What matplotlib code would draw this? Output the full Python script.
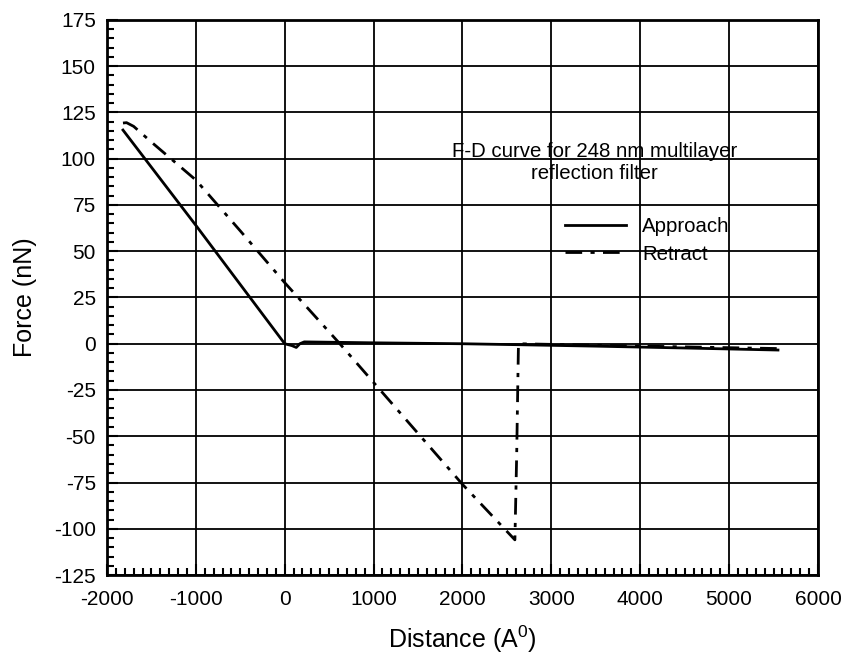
import matplotlib
matplotlib.use('Agg')
import matplotlib.pyplot as plt
from matplotlib.ticker import MultipleLocator

plt.rcParams['font.family'] = ['Liberation Sans', 'DejaVu Sans']
plt.rcParams['mathtext.fontset'] = 'custom'
plt.rcParams['mathtext.rm'] = 'Liberation Sans'
plt.rcParams['axes.unicode_minus'] = False

# approach curve (distance in A, force in nN)
approach_x = [-1820, -1000, -500, 0, 80, 130, 170, 220, 1000, 2000, 2600, 3500, 4500, 5550]
approach_y = [115.5, 64, 32, 0, -1, -2, 0, 1, 0.5, 0, -0.5, -1.3, -2.3, -3.4]

# retract curve
retract_x = [-1820, -1780, -1700, -1500, -1000, -500, 0, 620, 2000, 2590, 2610, 2630, 3500, 4500, 5550]
retract_y = [119.3, 119.5, 117.5, 109, 88.5, 61, 33, 0, -76, -106, -60, 0, -0.8, -1.7, -2.6]

fig = plt.figure(figsize=(8.45, 6.57), dpi=100)
ax = fig.add_axes([0.1266, 0.1248, 0.8414, 0.8448])

ax.plot(approach_x, approach_y, color='black', lw=2.0, label='Approach', zorder=3)
ax.plot(retract_x, retract_y, color='black', lw=2.0, dashes=(6, 3, 1.5, 3),
        label='Retract', zorder=3)

ax.set_xlim(-2000, 6000)
ax.set_ylim(-125, 175)
ax.xaxis.set_major_locator(MultipleLocator(1000))
ax.xaxis.set_minor_locator(MultipleLocator(100))
ax.yaxis.set_major_locator(MultipleLocator(25))
ax.yaxis.set_minor_locator(MultipleLocator(5))
ax.grid(True, which='major', color='black', lw=1.3)
ax.tick_params(which='both', direction='in', top=False, right=False, width=1.5,
               labelsize=15, colors='black')
ax.tick_params(which='major', length=8)
ax.tick_params(which='minor', length=5)
ax.tick_params(axis='x', which='major', pad=11)
ax.tick_params(axis='y', which='major', pad=8)
for s in ax.spines.values():
    s.set_linewidth(2)

ax.set_xlabel('Distance (A$^\\mathrm{0}$)', fontsize=18, labelpad=10)
ax.set_ylabel('Force (nN)', fontsize=18, labelpad=12)

ax.text(0.686, 0.744, 'F-D curve for 248 nm multilayer\nreflection filter',
        transform=ax.transAxes, ha='center', va='center', fontsize=14.7,
        linespacing=1.2)
ax.legend(loc='upper left', bbox_to_anchor=(0.644, 0.645), frameon=False,
          fontsize=14.7, handlelength=3.0, labelspacing=0.42, handletextpad=0.8,
          borderaxespad=0, borderpad=0)

fig.savefig('out.png', dpi=100)
